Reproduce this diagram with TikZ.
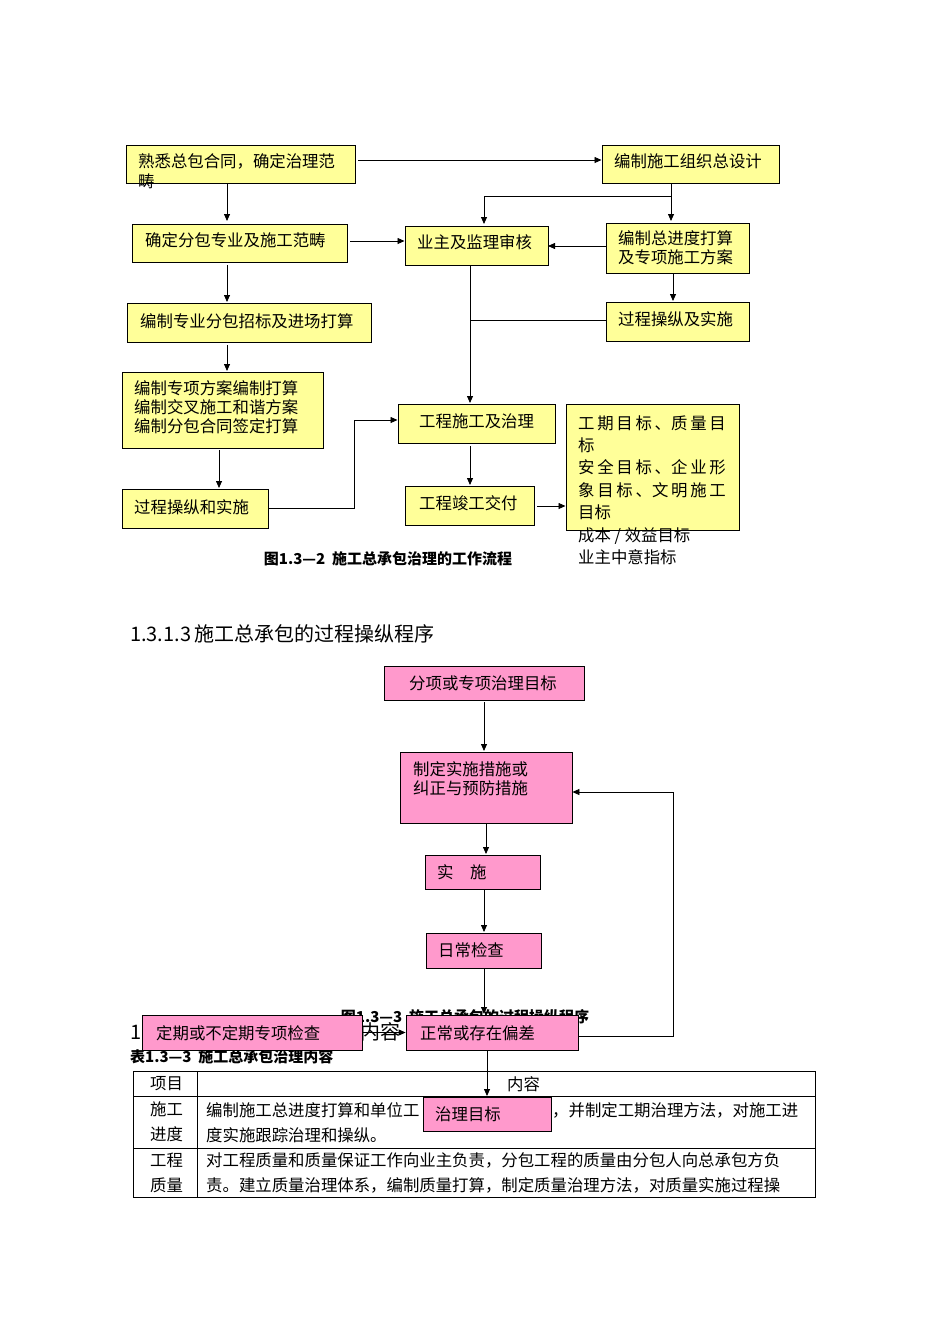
\documentclass[tikz,border=0pt]{standalone}
\usepackage{fontspec}
\setmainfont{Noto Sans CJK SC}
\usetikzlibrary{fit,arrows.meta}
\definecolor{ybfill}{HTML}{FFFF99}
\definecolor{pbfill}{HTML}{FF99CC}
\begin{document}
\begin{tikzpicture}[x=1pt,y=-1pt,
  yb/.style={draw=black,line width=1pt,fill=ybfill,inner sep=0pt},
  pb/.style={draw=black,line width=0.8pt,fill=pbfill,inner sep=0pt},
  tx/.style={anchor=west,inner sep=0pt,font=\fontsize{16.4}{19}\selectfont,align=left},
  captext/.style={anchor=center,inner sep=0pt,font=\fontsize{15}{18}\selectfont\bfseries},
  ar/.style={-{Triangle[length=7pt,width=6pt]},line width=0.8pt},
  ln/.style={line width=0.8pt}]
\useasboundingbox (0,0) rectangle (950,1344);
\fill[white] (0,0) rectangle (950,1344);
% ---- top flowchart
\node[yb,fit={(126,145)(355,183)}] (a1) {};
\node[yb,fit={(602,145)(779,183)}] (a2) {};
\node[yb,fit={(132,224)(347,262)}] (b1) {};
\node[yb,fit={(405,226)(548,265)}] (b2) {};
\node[yb,fit={(606,223)(749,273)}] (b3) {};
\node[yb,fit={(127,303)(371,342)}] (c1) {};
\node[yb,fit={(606,302)(749,341)}] (c3) {};
\node[yb,fit={(122,372)(323,448)}] (d1) {};
\node[yb,fit={(398,404)(555,443)}] (d2) {};
\node[yb,fit={(566,404)(739,530)}] (d3) {};
\node[yb,fit={(122,489)(268,528)}] (e1) {};
\node[yb,fit={(405,486)(534,525)}] (e2) {};
\node[tx] (ta1) at (138,161) {熟悉总包合同，确定治理范};
\node[tx] (ta1b) at (138,181) {畴};
\node[tx] (ta2) at (614,161) {编制施工组织总设计};
\node[tx] (tb1) at (145,240) {确定分包专业及施工范畴};
\node[tx] (tb2) at (417,242) {业主及监理审核};
\node[tx] (tb3) at (618,248) {编制总进度打算\\及专项施工方案};
\node[tx] (tc1) at (140,321) {编制专业分包招标及进场打算};
\node[tx] (tc3) at (618,319) {过程操纵及实施};
\node[tx] (td1) at (134,407) {编制专项方案编制打算\\编制交叉施工和谐方案\\编制分包合同签定打算};
\node[tx] (td2) at (419,421) {工程施工及治理};
\node[tx,font=\fontsize{16.4}{22.4}\selectfont] (td3) at (578,490) {工\,期\,目\,标\,、质\,量\,目\\标\\安\,全\,目\,标\,、企\,业\,形\\象\,目\,标\,、文\,明\,施\,工\\目标\\成本 / 效益目标\\业主中意指标};
\node[tx] (te1) at (134,507) {过程操纵和实施};
\node[tx] (te2) at (419,503) {工程竣工交付};
\node[captext] (cap1) at (388,559) {图1.3—2 \ 施工总承包治理的工作流程};
\draw[ar] (358,160) -- (a2.west |- 0,160);
\draw[ar] (227,184) -- (227,221);
\draw[ar] (671,183) -- (671,221);
\draw[ar] (671,196) -- (484,196) -- (484,224);
\draw[ar] (350,241) -- (b2.west |- 0,241);
\draw[ar] (b3.west |- 0,246) -- (548,246);
\draw[ar] (673,273) -- (673,301);
\draw[ar] (470,265) -- (470,403);
\draw[ln] (c3.west |- 0,320) -- (470,320);
\draw[ar] (227,265) -- (227,302);
\draw[ar] (227,345) -- (227,371);
\draw[ar] (219,450) -- (219,488);
\draw[ar] (268,508) -- (354,508) -- (354,420) -- (d2.west |- 0,420);
\draw[ar] (470,446) -- (470,485);
\draw[ar] (537,506) -- (d3.west |- 0,506);
% ---- heading
\node[anchor=west,inner sep=0pt,font=\fontsize{20}{24}\selectfont] (h1) at (130,634) {1.3.1.3\,施工总承包的过程操纵程序};
% ---- table
\node[anchor=west,inner sep=0pt,font=\fontsize{20}{24}\selectfont] (h2a) at (130,1032) {1};
\node[anchor=west,inner sep=0pt,font=\fontsize{20}{24}\selectfont] (h2b) at (360,1032) {内容};
\node[captext,anchor=west] (cap3) at (130,1057) {表1.3—3 \ 施工总承包治理内容};
\draw[line width=0.8pt] (133,1071) rectangle (815,1197);
\draw[line width=0.6pt] (133,1096) -- (815,1096) (133,1148) -- (815,1148) (197,1071) -- (197,1197);
\node[tx] (t00) at (150,1084) {项目};
\node[tx] (t01) at (507,1084) {内容};
\node[tx,font=\fontsize{16.4}{25}\selectfont] (t10) at (150,1122) {施工\\进度};
\node[tx] (t11a) at (206,1110) {编制施工总进度打算和单位工};
\node[tx] (t11b) at (552,1110) {，并制定工期治理方法，对施工进};
\node[tx] (t11c) at (206,1135) {度实施跟踪治理和操纵。};
\node[tx,font=\fontsize{16.4}{25}\selectfont] (t20) at (150,1173) {工程\\质量};
\node[tx,font=\fontsize{16.4}{25}\selectfont] (t21) at (206,1173) {对工程质量和质量保证工作向业主负责，分包工程的质量由分包人向总承包方负\\责。建立质量治理体系，编制质量打算，制定质量治理方法，对质量实施过程操};
% ---- pink flowchart
\node[captext] (cap2) at (465,1017) {图1.3—3 \ 施工总承包的过程操纵程序};
\node[pb,fit={(384,666)(584,700)}] (p1) {};
\node[pb,fit={(400,752)(572,823)}] (p2) {};
\node[pb,fit={(425,855)(540,889)}] (p3) {};
\node[pb,fit={(426,933)(541,968)}] (p4) {};
\node[pb,fit={(142,1015)(362,1050)}] (p5) {};
\node[pb,fit={(406,1015)(578,1050)}] (p6) {};
\node[pb,fit={(423,1097)(551,1131)}] (p7) {};
\node[tx] (tp1) at (409,683) {分项或专项治理目标};
\node[tx] (tp2) at (413,779) {制定实施措施或\\纠正与预防措施};
\node[tx] (tp3) at (437,872) {实\quad 施};
\node[tx] (tp4) at (438,950) {日常检查};
\node[tx] (tp5) at (156,1033) {定期或不定期专项检查};
\node[tx] (tp6) at (420,1033) {正常或存在偏差};
\node[tx] (tp7) at (435,1114) {治理目标};
\draw[ar] (484,702) -- (484,751);
\draw[ar] (486,823) -- (486,854);
\draw[ar] (484,889) -- (484,932);
\draw[ar] (484,968) -- (484,1014);
\draw[ar] (p5.east) -- (p6.west);
\draw[ar] (578,1036) -- (673,1036) -- (673,792) -- (p2.east |- 0,792);
\draw[ar] (487,1050) -- (487,1096);
\end{tikzpicture}
\end{document}
